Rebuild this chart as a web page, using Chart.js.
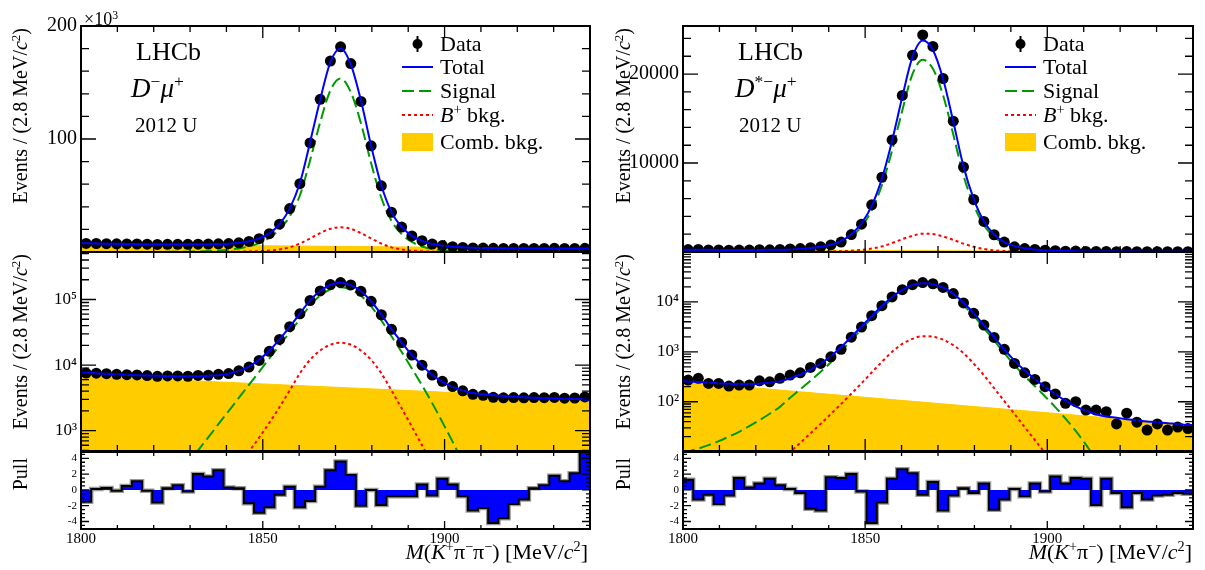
<!DOCTYPE html>
<html>
<head>
<meta charset="utf-8">
<script src="https://cdn.jsdelivr.net/npm/chart.js"></script>
<style>
  body { margin: 0; background: #fff; }
  #wrap { position: relative; width: 1205px; height: 570px; overflow: hidden; background: #fff;
          font-family: 'Liberation Serif', 'Times New Roman', serif; color: #000; }
  canvas { position: absolute; top: 0; }
  .t { position: absolute; white-space: nowrap; }
  sup { font-size: 65%; vertical-align: 0; position: relative; top: -0.55em; }
  .ytitle { position: absolute; width: 200px; height: 24px; line-height: 24px; font-size: 20px;
            text-align: right; white-space: nowrap; transform-origin: 0 0; transform: rotate(-90deg); }
  .xtitle { position: absolute; top: 539px; height: 26px; line-height: 26px; font-size: 22px; white-space: nowrap; }
  .leg { position: absolute; height: 24px; line-height: 24px; font-size: 22px; white-space: nowrap; }
  .sym { position: absolute; }
</style>
</head>
<body>
<div id="wrap">
  <canvas id="topL" width="600" height="570" style="left:0"></canvas>
  <canvas id="logL" width="600" height="570" style="left:0"></canvas>
  <canvas id="pullL" width="600" height="570" style="left:0"></canvas>
  <canvas id="topR" width="605" height="570" style="left:600px"></canvas>
  <canvas id="logR" width="605" height="570" style="left:600px"></canvas>
  <canvas id="pullR" width="605" height="570" style="left:600px"></canvas>

  <!-- left column texts -->
  <div class="t" style="left:84px;top:9px;font-size:18px;line-height:20px">×10<sup>3</sup></div>
  <div class="t" style="left:136px;top:37px;font-size:26px;line-height:30px">LHCb</div>
  <div class="t" style="left:131px;top:73px;font-size:27px;line-height:30px"><i>D</i><sup>−</sup><i>μ</i><sup>+</sup></div>
  <div class="t" style="left:135px;top:113px;font-size:21px;line-height:24px">2012 U</div>

  <div class="ytitle" style="left:8px;top:228px">Events / (2.8 MeV/<i>c</i><sup>2</sup>)</div>
  <div class="ytitle" style="left:8px;top:454px">Events / (2.8 MeV/<i>c</i><sup>2</sup>)</div>
  <div class="ytitle" style="left:8px;top:658px">Pull</div>
  <div class="xtitle" style="right:617px"><i>M</i>(<i>K</i><sup>+</sup>π<sup>−</sup>π<sup>−</sup>) [MeV/<i>c</i><sup>2</sup>]</div>

  <!-- right column texts -->
  <div class="t" style="left:738px;top:37px;font-size:26px;line-height:30px">LHCb</div>
  <div class="t" style="left:735px;top:73px;font-size:27px;line-height:30px"><i>D</i><sup>*−</sup><i>μ</i><sup>+</sup></div>
  <div class="t" style="left:739px;top:113px;font-size:21px;line-height:24px">2012 U</div>

  <div class="ytitle" style="left:611px;top:228px">Events / (2.8 MeV/<i>c</i><sup>2</sup>)</div>
  <div class="ytitle" style="left:611px;top:454px">Events / (2.8 MeV/<i>c</i><sup>2</sup>)</div>
  <div class="ytitle" style="left:611px;top:658px">Pull</div>
  <div class="xtitle" style="right:13px"><i>M</i>(<i>K</i><sup>+</sup>π<sup>−</sup>) [MeV/<i>c</i><sup>2</sup>]</div>
</div>

<script>
// bin centres (2.8 MeV bins, 1800-1940)
const binCenters = [1801.4, 1804.2, 1807.0, 1809.8, 1812.6, 1815.4, 1818.2, 1821.0, 1823.8, 1826.6,
  1829.4, 1832.2, 1835.0, 1837.8, 1840.6, 1843.4, 1846.2, 1849.0, 1851.8, 1854.6,
  1857.4, 1860.2, 1863.0, 1865.8, 1868.6, 1871.4, 1874.2, 1877.0, 1879.8, 1882.6,
  1885.4, 1888.2, 1891.0, 1893.8, 1896.6, 1899.4, 1902.2, 1905.0, 1907.8, 1910.6,
  1913.4, 1916.2, 1919.0, 1921.8, 1924.6, 1927.4, 1930.2, 1933.0, 1935.8, 1938.6];
const binHalf = 1.4;
const curveX = [1800, ...binCenters, 1940];
const combX = [1800, 1940];

const xLabels = [1800, 1850, 1900];
const yLabelsTopL = [100000, 200000];
const yLabelsTopR = [10000, 20000];
const yLabelsLogL = [1e3, 1e4, 1e5];
const yLabelsLogR = [1e2, 1e3, 1e4];
const yLabelsPull = [-4, -2, 0, 2, 4];

// ---- D- mu+ ----
const dataL = [7570, 7530, 7390, 7220, 7150, 7090, 6910, 6730, 6830, 6830,
  6760, 6960, 7000, 7230, 7430, 8170, 9330, 11780, 16220, 24610,
  38480, 60460, 96560, 135150, 169030, 181530, 166770, 133270, 94000, 58540,
  35150, 22080, 14200, 9970, 7040, 5650, 4700, 4050, 3590, 3460,
  3230, 3170, 3200, 3170, 3200, 3180, 3210, 3130, 3150, 3270];
const totalL = [7800, 7700, 7520, 7370, 7230, 7110, 7000, 6920, 6860, 6810, 6780,
  6780, 6800, 6860, 7020, 7400, 8150, 9500, 12100, 16500, 24700,
  38400, 61000, 97000, 135000, 168000, 180000, 166000, 134000, 94000, 59000,
  35300, 22200, 14300, 9900, 7100, 5550, 4650, 4100, 3750, 3600,
  3480, 3380, 3300, 3240, 3190, 3150, 3110, 3070, 3030, 2990, 2970];
const signalL = [2.6, 3.2, 5, 7.9, 12.6, 20, 31.5, 50, 79, 126, 200,
  315, 500, 790, 1260, 1990, 3160, 5000, 7900, 12600, 19900,
  31500, 50000, 81000, 115000, 143000, 153500, 141500, 114000, 78500, 48000,
  27500, 15800, 8900, 4900, 2630, 1350, 680, 330, 160, 80,
  40, 20, 10, 5, 2.5, 1.2, 0.6, 0.3, 0.15, 0.08, 0.05];
const bkgBL = [0.35, 0.4, 0.6, 0.9, 1.4, 2.1, 3.3, 5, 8, 12, 19,
  30, 47, 74, 116, 184, 295, 479, 785, 1320, 2290,
  4100, 7500, 12000, 16700, 20500, 21900, 20500, 16700, 12000, 7500,
  4100, 2190, 1150, 600, 316, 166, 87, 46, 24, 12.6,
  6.6, 3.5, 1.8, 1, 0.5, 0.3, 0.15, 0.08, 0.04, 0.02, 0.02];
const combL = [6900, 3060];
const pullL = [-1.5, 0.1, 0.25, -0.1, 0.5, 1.1, -0.1, -1.6, 0.2, 0.6,
  -0.2, 2.0, 1.7, 2.5, 0.3, 0.2, -1.7, -2.9, -2.2, -0.6,
  0.4, -2.2, -1.4, 0.4, 2.5, 3.6, 1.9, -2.0, 0.0, -1.9,
  -0.8, -0.8, -0.8, 0.7, -0.7, 1.4, 0.7, -0.8, -2.6, -2.3,
  -4.2, -3.6, -1.8, -1.2, 0.2, 0.6, 1.8, 1.1, 2.1, 5.2];

// ---- D*- mu+ ----
const dataR = [272, 294, 233, 233, 206, 216, 216, 263, 251, 294,
  342, 380, 487, 586, 794, 1120, 1960, 3130, 5300, 8400,
  12600, 17600, 22100, 24400, 23100, 19500, 14700, 9550, 5900, 3430,
  1940, 1120, 586, 380, 280, 200, 143, 93, 100, 68,
  68, 63, 36, 59, 39, 27, 36, 27, 31, 29];
const totalR = [260, 255, 248, 240, 235, 230, 227, 227, 230, 240, 256,
  294, 351, 440, 582, 814, 1245, 1994, 3208, 5184, 8245,
  12510, 17446, 21922, 23758, 22704, 19440, 14647, 9623, 5960, 3418,
  1961, 1114, 665, 421, 285, 196, 141, 105, 81, 66,
  56, 50.6, 47.7, 44.8, 42.4, 40.2, 39.1, 37.1, 36.1, 34.1, 34];
const signalR = [9.7, 10, 11.5, 13.5, 16.2, 20, 25, 32.4, 42.7, 57.5, 79,
  120, 178, 265, 400, 617, 1020, 1720, 2850, 4680, 7500,
  11400, 15900, 20000, 21600, 20600, 17600, 13200, 8600, 5300, 3000,
  1700, 940, 540, 325, 205, 127, 78, 46, 26, 13.8,
  6.9, 3.3, 1.5, 0.65, 0.27, 0.11, 0.04, 0.015, 0.006, 0.002, 0.002];
const bkgBR = [0.1, 0.13, 0.2, 0.3, 0.45, 0.7, 1.1, 1.7, 2.6, 4.1, 6.3,
  9.8, 15, 23.4, 36, 57, 90, 145, 234, 385, 630,
  1000, 1440, 1820, 2060, 2010, 1750, 1360, 940, 580, 341,
  187, 103, 57, 31, 17, 9.4, 5.2, 2.9, 1.6, 0.9,
  0.5, 0.3, 0.2, 0.1, 0.1, 0.1, 0.1, 0.1, 0.1, 0.1, 0.1];
const combR = [250, 34];
const pullR = [1.3, -1.2, -0.6, -1.8, -0.7, 1.5, 0.3, 0.8, 1.4, 0.6,
  0.1, -0.4, -2.4, -2.6, 1.6, 1.5, 2.0, -0.2, -4.2, -1.6,
  1.4, 2.6, 2.1, -0.6, 1.0, -2.6, -0.7, 0.2, -0.4, 0.8,
  -2.5, -1.2, 0.1, -0.8, 0.8, -0.2, 1.7, 0.8, 1.5, 1.4,
  -1.9, 1.4, -0.4, -2.2, -0.4, -1.2, -0.7, -0.6, -0.4, -0.5];

const SERIF = "'Liberation Serif', 'Times New Roman', serif";
const SUP = { 1: '¹', 2: '²', 3: '³', 4: '⁴', 5: '⁵' };

const pts = (xs, ys) => xs.map((x, i) => ({ x, y: ys[i] }));

function mainSets(d, tot, sig, bkgB, comb) {
  return [
    { data: pts(curveX, tot), borderColor: '#0000ff', borderWidth: 2, pointRadius: 0,
      cubicInterpolationMode: 'monotone', fill: false },
    { data: pts(binCenters, d), showLine: false, pointRadius: 5.5, pointBackgroundColor: '#000',
      pointBorderWidth: 0, borderColor: '#000' },
    { data: pts(curveX, sig), borderColor: '#009900', borderWidth: 2, borderDash: [12, 5],
      pointRadius: 0, cubicInterpolationMode: 'monotone', fill: false },
    { data: pts(curveX, bkgB), borderColor: '#ff0000', borderWidth: 2, borderDash: [3, 3],
      pointRadius: 0, cubicInterpolationMode: 'monotone', fill: false },
    { data: pts(combX, comb), borderColor: '#ffcc00', borderWidth: 1, pointRadius: 0,
      fill: 'start', backgroundColor: '#ffcc00' }
  ];
}

function pullSets(p) {
  const steps = [{ x: 1800, y: 0 }];
  binCenters.forEach((c, i) => steps.push({ x: c - binHalf, y: p[i] }));
  steps.push({ x: 1940, y: p[p.length - 1] }, { x: 1940, y: 0 });
  return [
    { data: steps, stepped: true, borderColor: '#000', borderWidth: 2, pointRadius: 0,
      fill: 'origin', backgroundColor: '#0000ff' },
    { data: steps, stepped: true, borderColor: '#9a9a9a', borderWidth: 4.5, pointRadius: 0, fill: false }
  ];
}

const xMinor = [];
for (let v = 1810; v < 1940; v += 10) if (v % 50) xMinor.push(v);

function logTicks(e0, e1) {
  const maj = [], min = [];
  for (let e = e0; e <= e1; e++) {
    maj.push(Math.pow(10, e));
    for (let m = 2; m <= 9; m++) min.push(m * Math.pow(10, e));
  }
  return { maj, min };
}
function linTicks(step, top) {
  const a = [];
  for (let v = step; v <= top; v += step) a.push(v);
  return a;
}

// frame + inward ticks on all four sides (ROOT style), optional error bars
function frame(spec) {
  return {
    id: 'frame',
    afterDatasetsDraw(chart) {
      const { ctx, chartArea: a, scales: { x, y } } = chart;
      ctx.save();
      if (spec.errs) {
        ctx.beginPath(); ctx.rect(a.left, a.top, a.width, a.height); ctx.clip();
        ctx.strokeStyle = '#000'; ctx.lineWidth = 1.5;
        ctx.beginPath();
        binCenters.forEach((c, i) => {
          const v = spec.errs[i], e = Math.sqrt(v);
          const px = x.getPixelForValue(c);
          ctx.moveTo(px, y.getPixelForValue(v + e));
          ctx.lineTo(px, y.getPixelForValue(Math.max(v - e, 1e-3)));
        });
        ctx.stroke();
        ctx.restore(); ctx.save();
      }
      ctx.strokeStyle = '#000';
      ctx.lineWidth = 1.3;
      ctx.beginPath();
      const xt = (v, len) => {
        const px = x.getPixelForValue(v);
        ctx.moveTo(px, a.bottom); ctx.lineTo(px, a.bottom - len);
        ctx.moveTo(px, a.top); ctx.lineTo(px, a.top + len);
      };
      const yt = (v, len) => {
        const py = y.getPixelForValue(v);
        if (py < a.top - 0.5 || py > a.bottom + 0.5) return;
        ctx.moveTo(a.left, py); ctx.lineTo(a.left + len, py);
        ctx.moveTo(a.right, py); ctx.lineTo(a.right - len, py);
      };
      xMinor.forEach(v => xt(v, spec.xMin));
      xLabels.forEach(v => xt(v, spec.xMaj));
      spec.yMinor.forEach(v => yt(v, spec.yMin));
      spec.yMajor.forEach(v => yt(v, spec.yMaj));
      ctx.stroke();
      ctx.lineWidth = 2;
      ctx.strokeRect(a.left, a.top, a.width, a.height);
      ctx.restore();
    }
  };
}

function panel(id, o) {
  return new Chart(document.getElementById(id), {
    type: 'line',
    data: { datasets: o.datasets },
    options: {
      responsive: false,
      animation: false,
      devicePixelRatio: 1,
      layout: { padding: { left: 0, right: o.padR, top: o.top, bottom: o.bottom } },
      plugins: { legend: { display: false }, tooltip: { enabled: false } },
      scales: {
        x: {
          type: 'linear', min: 1800, max: 1940, display: !!o.showX,
          grid: { display: false, drawTicks: false }, border: { display: false },
          ticks: { font: { family: SERIF, size: 15 }, color: '#000', padding: 1, maxRotation: 0, autoSkip: false,
                   callback: v => String(v) },
          afterBuildTicks: s => { s.ticks = xLabels.map(v => ({ value: v })); },
          afterFit: s => { if (o.showX) s.height = o.xHeight; }
        },
        y: {
          type: o.yType, min: o.yMin, max: o.yMax,
          grid: { display: false, drawTicks: false }, border: { display: false },
          ticks: { font: { family: SERIF, size: o.yFont }, color: '#000', padding: 4, autoSkip: false,
                   callback: o.yFmt },
          afterBuildTicks: s => { s.ticks = o.yLabels.map(v => ({ value: v })); },
          afterFit: s => { s.width = o.yWidth; }
        }
      }
    },
    plugins: [frame(o.spec)]
  });
}

const logFmt = v => '10' + SUP[Math.round(Math.log10(v))];
const pullFmt = v => String(v);
const lgL = logTicks(2, 5), lgR = logTicks(1, 4);
const pullMinor = [];
for (let v = -4.5; v <= 4.5; v += 0.5) pullMinor.push(v);

const columns = [
  { s: 'L', padR: 10, yWidth: 81, data: dataL, total: totalL, sig: signalL, bkgB: bkgBL, comb: combL, pull: pullL,
    topMax: 200000, topLabels: yLabelsTopL, topFmt: v => String(v / 1000), topStep: 20000, topMaj: [100000, 200000],
    logMin: 490, logMax: 530000, logLabels: yLabelsLogL, lg: lgL },
  { s: 'R', padR: 12, yWidth: 83, data: dataR, total: totalR, sig: signalR, bkgB: bkgBR, comb: combR, pull: pullR,
    topMax: 25400, topLabels: yLabelsTopR, topFmt: v => String(v), topStep: 2000, topMaj: [10000, 20000],
    logMin: 10.3, logMax: 100000, logLabels: yLabelsLogR, lg: lgR }
];

columns.forEach(c => {
  panel('top' + c.s, {
    datasets: mainSets(c.data, c.total, c.sig, c.bkgB, c.comb),
    padR: c.padR, top: 26, bottom: 318, yWidth: c.yWidth,
    yType: 'linear', yMin: 0, yMax: c.topMax, yLabels: c.topLabels, yFont: 20, yFmt: c.topFmt,
    spec: { xMaj: 12, xMin: 6, yMaj: 15, yMin: 8, yMajor: c.topMaj, yMinor: linTicks(c.topStep, c.topMax) }
  });
  panel('log' + c.s, {
    datasets: mainSets(c.data, c.total, c.sig, c.bkgB, c.comb),
    padR: c.padR, top: 252, bottom: 119, yWidth: c.yWidth,
    yType: 'logarithmic', yMin: c.logMin, yMax: c.logMax, yLabels: c.logLabels, yFont: 17, yFmt: logFmt,
    spec: { xMaj: 12, xMin: 6, yMaj: 15, yMin: 8, yMajor: c.lg.maj, yMinor: c.lg.min, errs: c.data }
  });
  panel('pull' + c.s, {
    datasets: pullSets(c.pull),
    padR: c.padR, top: 452, bottom: 0, yWidth: c.yWidth, showX: true, xHeight: 41,
    yType: 'linear', yMin: -4.95, yMax: 4.8, yLabels: yLabelsPull, yFont: 11, yFmt: pullFmt,
    spec: { xMaj: 8, xMin: 4, yMaj: 8, yMin: 4, yMajor: yLabelsPull, yMinor: pullMinor }
  });
});

// legends (HTML, one per column)
const legendRows = [
  { label: 'Data', kind: 'data', cy: 43.5 },
  { label: 'Total', kind: 'line', color: '#0000ff', dash: '', cy: 67 },
  { label: 'Signal', kind: 'line', color: '#009900', dash: '12 5', cy: 90.5 },
  { label: '<i>B</i><sup>+</sup> bkg.', kind: 'line', color: '#ff0000', dash: '3 3', cy: 115 },
  { label: 'Comb. bkg.', kind: 'box', color: '#ffcc00', cy: 141.5 }
];
const wrap = document.getElementById('wrap');
[{ symX: 402, txtX: 440 }, { symX: 1005, txtX: 1043 }].forEach(pos => {
  legendRows.forEach(r => {
    const t = document.createElement('div');
    t.className = 'leg';
    t.style.left = pos.txtX + 'px';
    t.style.top = (r.cy - 12) + 'px';
    t.innerHTML = r.label;
    wrap.appendChild(t);
    const s = document.createElement('div');
    s.className = 'sym';
    s.style.left = pos.symX + 'px';
    s.style.top = (r.cy - 10) + 'px';
    let svg = '';
    if (r.kind === 'data') {
      svg = '<line x1="15.5" y1="2" x2="15.5" y2="18" stroke="#000" stroke-width="2"/>' +
            '<circle cx="15.5" cy="10" r="5" fill="#000"/>';
    } else if (r.kind === 'line') {
      svg = '<line x1="0" y1="10" x2="31" y2="10" stroke="' + r.color + '" stroke-width="2"' +
            (r.dash ? ' stroke-dasharray="' + r.dash + '"' : '') + '/>';
    } else {
      svg = '<rect x="0" y="1" width="31" height="18" fill="' + r.color + '"/>';
    }
    s.innerHTML = '<svg width="32" height="20">' + svg + '</svg>';
    wrap.appendChild(s);
  });
});
</script>
</body>
</html>
